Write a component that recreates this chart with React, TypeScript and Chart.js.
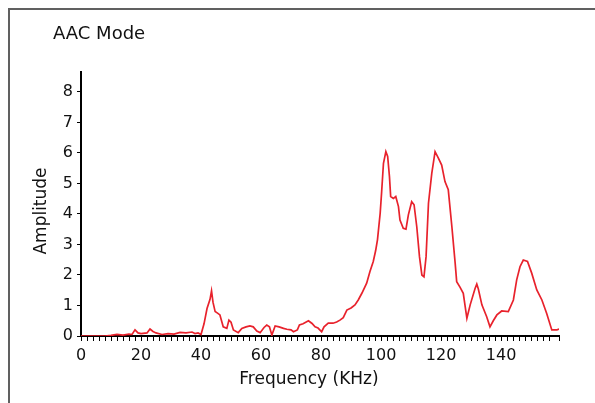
import React, { useEffect, useRef } from "react";
import { Chart, registerables } from "chart.js";

Chart.register(...registerables);

const chartTitle = "AAC Mode";
const xTitle = "Frequency (KHz)";
const yTitle = "Amplitude";

const freq: number[] = [
  0, 4, 8, 10, 12, 14, 16, 17, 18, 19, 20, 22, 23, 24, 25, 27, 29, 31, 33, 35, 37, 38, 39, 40, 41, 42, 43, 43.5, 44,
  44.7, 45.5, 46.3, 47.4, 48.6, 49.3, 50, 50.8, 52.4, 53.6, 55, 56.3, 57.4, 58.6, 59.7, 61, 61.9, 62.8, 63.6, 64.7,
  66, 67.5, 68.6, 70, 70.8, 72.1, 72.8, 74, 75.8, 77, 78, 79, 80.2, 81, 82.4, 84, 85.2, 86.3, 87.4, 88.6, 90, 91.3,
  92.4, 93.6, 95.2, 96.3, 97.4, 98.2, 98.8, 99.7, 100.2, 100.8, 101.6, 102.2, 102.8, 103.2, 104.1, 104.9, 105.8,
  106.3, 107.4, 108.3, 109.1, 110.2, 111, 111.9, 112.8, 113.6, 114.3, 115, 115.8, 116.9, 118, 119.1, 120.2, 121.3,
  122.4, 123.6, 124.7, 125.2, 126.3, 127.4, 128.6, 129.7, 131.3, 131.9, 132.4, 133.6, 135.2, 136.3, 137.4, 138.6,
  140.2, 142.4, 144.1, 145.2, 146.3, 147.4, 148.8, 150.2, 151.9, 153.6, 155.2, 156.9, 158.6, 159.4,
];

const amp: number[] = [
  0, 0, 0, 0.02, 0.05, 0.03, 0.06, 0.05, 0.2, 0.1, 0.08, 0.1, 0.23, 0.15, 0.1, 0.05, 0.08, 0.06, 0.12, 0.1, 0.13,
  0.08, 0.1, 0.05, 0.4, 0.9, 1.2, 1.48, 1.1, 0.8, 0.75, 0.69, 0.3, 0.25, 0.52, 0.45, 0.2, 0.11, 0.25, 0.3, 0.33,
  0.3, 0.16, 0.11, 0.28, 0.36, 0.3, 0.03, 0.33, 0.3, 0.25, 0.22, 0.2, 0.14, 0.2, 0.36, 0.4, 0.5, 0.41, 0.3, 0.26,
  0.14, 0.3, 0.42, 0.42, 0.46, 0.52, 0.6, 0.85, 0.92, 1.02, 1.18, 1.4, 1.73, 2.11, 2.44, 2.8, 3.15, 4.02, 4.73,
  5.66, 6.04, 5.88, 5.22, 4.57, 4.51, 4.57, 4.24, 3.8, 3.53, 3.5, 3.97, 4.4, 4.3, 3.58, 2.6, 2.0, 1.94, 2.6, 4.35,
  5.33, 6.04, 5.83, 5.6, 5.06, 4.79, 3.58, 2.38, 1.78, 1.6, 1.4, 0.58, 1.02, 1.55, 1.7, 1.55, 1.02, 0.63, 0.3, 0.5,
  0.69, 0.82, 0.8, 1.18, 1.84, 2.27, 2.49, 2.44, 2.06, 1.51, 1.18, 0.74, 0.2, 0.2, 0.23,
];

const xMin = 0;
const xMax = 159.3;
const xLabelStep = 20;
const xTickStep = 2;
const yMin = 0;
const yMax = 8.65;
const yTickStep = 1;

const FONT = "'DejaVu Sans', sans-serif";
const TEXT = "#111111";

const textPlugin = {
  id: "texts",
  afterDraw(chart: any) {
    const ctx = chart.ctx;
    ctx.save();
    ctx.fillStyle = TEXT;
    ctx.font = `18px ${FONT}`;
    ctx.textAlign = "left";
    ctx.textBaseline = "alphabetic";
    ctx.fillText(chartTitle, 53, 39);

    ctx.font = `17px ${FONT}`;
    ctx.textAlign = "center";
    ctx.textBaseline = "middle";
    ctx.fillText(xTitle, 309, 380);

    ctx.translate(42, 211);
    ctx.rotate(-Math.PI / 2);
    ctx.fillText(yTitle, 0, 0);
    ctx.restore();
  },
};

export default function App() {
  const ref = useRef<HTMLCanvasElement | null>(null);

  useEffect(() => {
    if (!ref.current) return;
    const points = freq.map((f, i) => ({ x: f, y: amp[i] }));
    const chart = new Chart(ref.current, {
      type: "line",
      data: {
        datasets: [
          {
            data: points,
            borderColor: "#e8222c",
            borderWidth: 1.7,
            pointRadius: 0,
            tension: 0,
            fill: false,
          },
        ],
      },
      options: {
        animation: false,
        responsive: false,
        maintainAspectRatio: false,
        layout: { padding: { left: 0, right: 36, top: 72, bottom: 0 } },
        plugins: { legend: { display: false }, tooltip: { enabled: false } },
        scales: {
          x: {
            type: "linear",
            min: xMin,
            max: xMax,
            afterFit: (s: any) => {
              s.height = 67;
            },
            afterBuildTicks: (s: any) => {
              s.ticks = s.ticks.filter((t: any) => Math.abs(t.value / xTickStep - Math.round(t.value / xTickStep)) < 1e-6 || t.value === xMax);
            },
            ticks: {
              stepSize: xTickStep,
              autoSkip: false,
              maxRotation: 0,
              padding: 5,
              color: TEXT,
              font: { family: FONT, size: 16 },
              callback: (v: any) => (Math.abs(v % xLabelStep) < 1e-6 ? String(v) : ""),
            },
            grid: {
              display: true,
              drawOnChartArea: false,
              drawTicks: true,
              tickLength: 5,
              color: "#000",
              lineWidth: 1,
            },
            border: { display: true, color: "#000", width: 2 },
          },
          y: {
            type: "linear",
            min: yMin,
            max: yMax,
            afterFit: (s: any) => {
              s.width = 81;
            },
            afterBuildTicks: (s: any) => {
              s.ticks = s.ticks.filter((t: any) => Number.isInteger(t.value));
            },
            ticks: {
              stepSize: yTickStep,
              padding: 4,
              color: TEXT,
              font: { family: FONT, size: 16 },
            },
            grid: {
              display: true,
              drawOnChartArea: false,
              drawTicks: true,
              tickLength: 4,
              color: "#000",
              lineWidth: 1,
            },
            border: { display: true, color: "#000", width: 2 },
          },
        },
      },
      plugins: [textPlugin],
    });
    return () => chart.destroy();
  }, []);

  return (
    <div>
      <div
        style={{
          position: "fixed",
          left: 8,
          top: 8,
          width: 600,
          height: 500,
          borderTop: "2px solid #606060",
          borderLeft: "2px solid #606060",
          boxSizing: "border-box",
        }}
      />
      <canvas
        ref={ref}
        width={595}
        height={403}
        style={{ position: "fixed", left: 0, top: 0, width: 595, height: 403 }}
      />
    </div>
  );
}
